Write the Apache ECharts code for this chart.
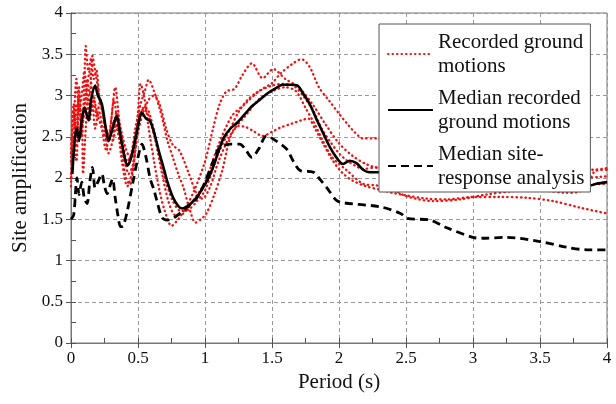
<!DOCTYPE html>
<html>
<head>
<meta charset="utf-8">
<script src="https://cdn.jsdelivr.net/npm/echarts@6/dist/echarts.min.js"></script>
<style>html,body{margin:0;padding:0;background:#fff}#c{width:616px;height:404px}</style>
</head>
<body>
<div id="c"></div>
<script>
// Period ticks and amplification ticks
var xTicks = [0, 0.5, 1, 1.5, 2, 2.5, 3, 3.5, 4];
var yTicks = [0, 0.5, 1, 1.5, 2, 2.5, 3, 3.5, 4];

// Recorded ground motions: [period (s), site amplification]
var rec1 = [[0.0,2.0],[0.02,2.6],[0.04,3.2],[0.06,2.8],[0.08,3.0],[0.10,3.3],[0.12,3.0],[0.14,2.7],[0.16,2.9],[0.18,2.6],[0.21,2.8],[0.24,2.55],[0.27,2.45],[0.30,2.7],[0.33,3.1],[0.36,2.7],[0.39,2.4],[0.42,2.2],[0.45,2.3],[0.48,2.6],[0.52,2.9],[0.55,3.05],[0.58,3.19],[0.62,3.05],[0.66,2.85],[0.69,2.66],[0.72,2.45],[0.76,2.25],[0.80,2.05],[0.84,1.88],[0.88,1.65],[0.93,1.46],[0.97,1.5],[1.01,1.57],[1.07,1.8],[1.13,2.1],[1.19,2.5],[1.25,2.63],[1.3,2.62],[1.36,2.57],[1.43,2.51],[1.5,2.56],[1.56,2.61],[1.65,2.66],[1.72,2.7],[1.77,2.72],[1.82,2.6],[1.88,2.42],[1.95,2.22],[2.02,2.07],[2.1,1.97],[2.2,1.9],[2.3,1.86],[2.4,1.82],[2.5,1.79],[2.65,1.75],[2.8,1.74],[3.0,1.77],[3.2,1.77],[3.4,1.76],[3.6,1.72],[3.8,1.64],[4.0,1.57]];
var rec2 = [[0.0,1.9],[0.02,2.5],[0.04,2.2],[0.06,2.9],[0.08,2.5],[0.10,3.2],[0.11,3.6],[0.13,3.3],[0.15,3.45],[0.17,3.2],[0.19,3.3],[0.21,3.0],[0.23,2.85],[0.26,2.6],[0.29,2.5],[0.32,2.7],[0.35,2.55],[0.38,2.3],[0.41,2.0],[0.44,1.92],[0.47,2.2],[0.50,2.8],[0.52,3.14],[0.55,2.95],[0.58,2.6],[0.62,2.2],[0.66,1.85],[0.70,1.6],[0.75,1.42],[0.80,1.5],[0.86,1.65],[0.92,1.85],[1.0,2.2],[1.06,2.6],[1.11,2.9],[1.16,3.05],[1.22,3.08],[1.28,3.25],[1.35,3.39],[1.43,3.21],[1.51,3.32],[1.6,3.2],[1.7,3.1],[1.8,2.9],[1.9,2.65],[2.0,2.42],[2.1,2.27],[2.2,2.17],[2.3,2.12],[2.6,2.08],[3.0,2.02],[3.5,1.98],[4.0,2.02]];
var rec3 = [[0.0,2.2],[0.02,2.9],[0.04,2.4],[0.06,3.1],[0.08,2.7],[0.10,2.9],[0.12,3.2],[0.14,3.0],[0.16,3.48],[0.18,3.3],[0.20,3.1],[0.22,2.9],[0.25,2.7],[0.28,2.5],[0.31,2.45],[0.34,2.65],[0.37,2.5],[0.40,2.25],[0.43,2.05],[0.46,2.15],[0.50,2.6],[0.54,2.85],[0.58,2.75],[0.63,2.45],[0.68,2.05],[0.73,1.7],[0.78,1.55],[0.83,1.56],[0.9,1.7],[1.0,1.95],[1.1,2.4],[1.2,2.75],[1.3,2.9],[1.4,3.05],[1.5,3.15],[1.56,3.26],[1.65,3.38],[1.72,3.44],[1.78,3.35],[1.85,3.1],[1.93,2.93],[2.0,2.78],[2.06,2.66],[2.12,2.55],[2.18,2.48],[2.28,2.48],[2.5,2.35],[3.0,2.2],[3.5,2.15],[3.9,2.1],[4.0,2.12]];
var rec4 = [[0.0,2.0],[0.02,2.3],[0.04,2.9],[0.06,2.5],[0.08,2.7],[0.09,2.05],[0.11,2.6],[0.13,3.0],[0.15,2.8],[0.17,3.0],[0.19,2.75],[0.22,2.95],[0.25,2.6],[0.28,2.3],[0.31,2.45],[0.34,2.8],[0.37,2.6],[0.41,2.35],[0.44,2.25],[0.48,2.5],[0.52,2.8],[0.56,2.85],[0.6,2.7],[0.65,2.35],[0.7,2.0],[0.76,1.72],[0.82,1.6],[0.88,1.62],[0.94,1.72],[1.0,1.85],[1.1,2.3],[1.19,2.6],[1.25,2.8],[1.32,2.95],[1.4,3.05],[1.5,3.12],[1.58,3.14],[1.66,3.12],[1.73,3.0],[1.81,2.81],[1.87,2.6],[1.93,2.45],[2.0,2.3],[2.06,2.21],[2.12,2.15],[2.18,2.11],[2.28,2.13],[2.4,2.05],[3.0,1.95],[3.5,1.9],[4.0,1.93]];
var rec5 = [[0.0,2.3],[0.02,2.8],[0.04,2.5],[0.06,3.0],[0.08,2.6],[0.10,2.8],[0.12,3.1],[0.14,3.3],[0.16,3.0],[0.18,2.9],[0.20,2.75],[0.23,2.6],[0.26,2.35],[0.29,2.55],[0.32,2.95],[0.35,2.6],[0.38,2.2],[0.42,1.9],[0.46,2.1],[0.50,2.55],[0.54,2.8],[0.58,2.95],[0.62,3.0],[0.66,2.9],[0.71,2.6],[0.76,2.4],[0.81,2.33],[0.88,2.05],[0.94,1.8],[0.98,1.75],[1.04,1.9],[1.1,2.2],[1.2,2.55],[1.3,2.75],[1.4,2.95],[1.5,3.05],[1.6,3.1],[1.68,3.05],[1.75,2.85],[1.82,2.65],[1.88,2.45],[1.95,2.25],[2.06,2.09],[2.18,1.93],[2.28,1.91],[2.4,1.86],[2.5,1.78],[2.7,1.72],[2.9,1.74],[3.1,1.8],[3.3,1.84],[3.5,1.85],[3.7,1.82],[3.8,1.84],[3.86,1.97],[3.92,2.09],[4.0,2.1]];

// Median recorded ground motions
var medRecorded = [[0.01,2.05],[0.03,2.5],[0.045,2.6],[0.06,2.45],[0.08,2.7],[0.10,2.85],[0.13,2.7],[0.15,2.95],[0.18,3.12],[0.2,3.0],[0.23,2.9],[0.26,2.6],[0.28,2.45],[0.31,2.6],[0.34,2.75],[0.37,2.5],[0.40,2.25],[0.42,2.15],[0.45,2.25],[0.49,2.55],[0.53,2.79],[0.56,2.72],[0.59,2.69],[0.62,2.55],[0.66,2.3],[0.69,2.13],[0.72,1.95],[0.76,1.77],[0.8,1.66],[0.83,1.63],[0.87,1.66],[0.9,1.7],[0.94,1.77],[0.98,1.87],[1.02,1.98],[1.06,2.13],[1.1,2.32],[1.14,2.49],[1.19,2.6],[1.24,2.67],[1.3,2.78],[1.35,2.87],[1.41,2.95],[1.47,3.03],[1.53,3.09],[1.58,3.13],[1.64,3.13],[1.69,3.12],[1.73,3.03],[1.78,2.9],[1.83,2.72],[1.88,2.55],[1.93,2.38],[1.98,2.25],[2.03,2.17],[2.08,2.21],[2.13,2.18],[2.18,2.1],[2.23,2.07],[2.3,2.07],[2.6,2.05],[3.0,2.0],[3.5,1.95],[3.85,1.9],[3.92,1.93],[4.0,1.95]];

// Median site-response analysis
var medSiteResponse = [[0.0,1.5],[0.02,1.55],[0.045,2.0],[0.06,1.8],[0.08,1.95],[0.1,1.75],[0.12,1.69],[0.14,1.95],[0.16,2.13],[0.18,1.88],[0.2,1.95],[0.23,2.05],[0.25,1.9],[0.27,1.81],[0.29,1.9],[0.31,1.99],[0.33,1.76],[0.35,1.55],[0.37,1.41],[0.39,1.42],[0.42,1.6],[0.46,1.93],[0.5,2.25],[0.53,2.41],[0.56,2.25],[0.59,2.0],[0.62,1.85],[0.64,1.73],[0.68,1.52],[0.72,1.49],[0.77,1.52],[0.81,1.57],[0.87,1.65],[0.94,1.76],[1.0,1.95],[1.06,2.2],[1.11,2.37],[1.19,2.41],[1.26,2.41],[1.3,2.35],[1.35,2.25],[1.4,2.35],[1.46,2.51],[1.53,2.45],[1.61,2.35],[1.66,2.2],[1.71,2.09],[1.81,2.07],[1.86,1.98],[1.91,1.88],[1.98,1.73],[2.03,1.7],[2.31,1.65],[2.46,1.57],[2.51,1.51],[2.68,1.49],[2.8,1.4],[3.0,1.28],[3.07,1.27],[3.25,1.28],[3.5,1.23],[3.7,1.16],[3.85,1.13],[4.0,1.13]];

var legendNames = ['Recorded ground motions', 'Median recorded ground motions', 'Median site-response analysis'];
var legendText = {
  'Recorded ground motions': 'Recorded ground\nmotions',
  'Median recorded ground motions': 'Median recorded\nground motions',
  'Median site-response analysis': 'Median site-\nresponse analysis'
};

var FONT = 'Liberation Serif';
var chart = echarts.init(document.getElementById('c'), null, {renderer: 'canvas'});

function recSeries(d) {
  return {
    type: 'line', name: legendNames[0], data: d, showSymbol: false, symbol: 'none',
    smooth: 0.3, z: 2,
    lineStyle: {color: '#f01010', width: 2.3, type: [0.5, 4], cap: 'round'},
    itemStyle: {color: '#f01010'}
  };
}

var axisCommon = {
  type: 'value', min: 0, max: 4, interval: 0.5,
  axisLine: {show: true, lineStyle: {color: '#555', width: 1}},
  axisTick: {show: true, inside: true, length: 5, lineStyle: {color: '#555'}},
  minorTick: {show: true, splitNumber: 2, length: 5, lineStyle: {color: '#555'}},
  splitLine: {show: true, lineStyle: {color: '#999', type: [4, 3], width: 1}}
};

var option = {
  animation: false,
  backgroundColor: '#fff',
  grid: {left: 71, right: 9, top: 13, bottom: 61, show: true, borderColor: '#777', borderWidth: 1},
  xAxis: [
    Object.assign({}, axisCommon, {
      position: 'bottom',
      name: 'Period (s)', nameLocation: 'middle', nameGap: 26,
      nameTextStyle: {fontFamily: FONT, fontSize: 21, color: '#111'},
      axisLabel: {fontFamily: FONT, fontSize: 17, color: '#111', margin: 7,
        formatter: function (v) { return xTicks.indexOf(v) >= 0 ? String(v) : ''; }}
    }),
    Object.assign({}, axisCommon, {
      position: 'top', axisLabel: {show: false}, splitLine: {show: false},
      minorTick: {show: false}, axisLine: {show: true, lineStyle: {color: '#777'}}
    })
  ],
  yAxis: [
    Object.assign({}, axisCommon, {
      position: 'left',
      name: 'Site amplification', nameLocation: 'middle', nameGap: 38,
      nameTextStyle: {fontFamily: FONT, fontSize: 21, color: '#111'},
      axisLabel: {fontFamily: FONT, fontSize: 17, color: '#111', margin: 8,
        formatter: function (v) { return yTicks.indexOf(v) >= 0 ? String(v) : ''; }}
    }),
    Object.assign({}, axisCommon, {
      position: 'right', axisLabel: {show: false}, splitLine: {show: false},
      minorTick: {show: false}, axisLine: {show: true, lineStyle: {color: '#777'}}
    })
  ],
  legend: {
    data: legendNames,
    orient: 'vertical',
    left: 379, top: 24,
    padding: [-6, 6, -10, 8],
    itemGap: -16,
    itemWidth: 45, itemHeight: 14,
    backgroundColor: '#fff',
    borderColor: '#555', borderWidth: 1,
    itemStyle: {opacity: 0},
    formatter: function (n) { return legendText[n]; },
    textStyle: {fontFamily: FONT, fontSize: 21, color: '#111', lineHeight: 24, padding: [24, 0, 0, 0]}
  },
  series: [
    recSeries(rec1), recSeries(rec2), recSeries(rec3), recSeries(rec4), recSeries(rec5),
    {type: 'line', name: legendNames[1], data: medRecorded, showSymbol: false, symbol: 'none', smooth: 0.3, z: 3,
     lineStyle: {color: '#000', width: 2.6, type: 'solid'}, itemStyle: {color: '#000'}},
    {type: 'line', name: legendNames[2], data: medSiteResponse, showSymbol: false, symbol: 'none', smooth: 0.3, z: 3,
     lineStyle: {color: '#000', width: 2.8, type: [8, 5]}, itemStyle: {color: '#000'}}
  ]
};
chart.setOption(option);
</script>
</body>
</html>
